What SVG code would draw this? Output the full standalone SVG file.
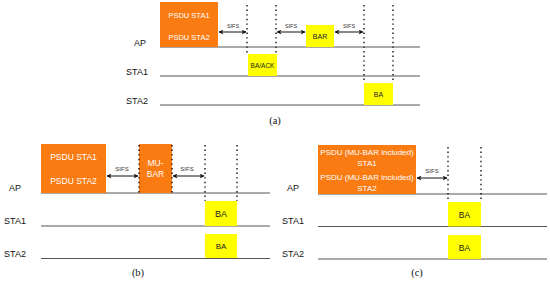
<svg xmlns="http://www.w3.org/2000/svg" width="550" height="282" viewBox="0 0 550 282">
<style>
text{font-family:"Liberation Sans",Arial,sans-serif;}
.or{fill:#F97B12;}
.ye{fill:#FFFF00;}
.wt{fill:#fff;font-size:7.5px;text-anchor:middle;}
.bt{fill:#222;font-size:7px;text-anchor:middle;}
.lb{fill:#111;font-size:9px;text-anchor:middle;}
.sf{fill:#333;font-size:5.5px;text-anchor:middle;}
.tl{stroke:#555;stroke-width:1;fill:none;}
.dt{stroke:#111;stroke-width:1.4;stroke-dasharray:1.4 3.2;fill:none;}
.ar{stroke:#111;stroke-width:1;fill:none;marker-start:url(#ah);marker-end:url(#ah);}
.cap{font-family:"Liberation Serif","Times New Roman",serif;font-size:10.5px;fill:#111;text-anchor:middle;}
</style>
<defs>
<marker id="ah" viewBox="0 0 10 10" refX="9" refY="5" markerWidth="5" markerHeight="5" orient="auto-start-reverse">
<path d="M0,0 L10,5 L0,10 L3,5 Z" fill="#111"/>
</marker>
</defs>

<!-- Panel (a) -->
<g id="a-labels">
<text class="lb" x="140" y="46">AP</text>
<text class="lb" x="137" y="75">STA1</text>
<text class="lb" x="137" y="104">STA2</text>
</g>
<g id="a-timelines">
<line class="tl" x1="160" y1="47" x2="420" y2="47"/>
<line class="tl" x1="160" y1="76" x2="420" y2="76"/>
<line class="tl" x1="160" y1="105" x2="420" y2="105"/>
</g>
<g id="a-psdu">
<rect class="or" x="160" y="2" width="58" height="45"/>
<text class="wt" x="189" y="17.5">PSDU STA1</text>
<text class="wt" x="189" y="39.5">PSDU STA2</text>
</g>
<g id="a-baack">
<rect class="ye" x="248" y="54" width="29" height="22"/>
<text class="bt" x="262.5" y="67.5" style="font-size:6.5px">BA/ACK</text>
</g>
<g id="a-bar">
<rect class="ye" x="306" y="25" width="28" height="22"/>
<text class="bt" x="320" y="38.5">BAR</text>
</g>
<g id="a-ba">
<rect class="ye" x="364" y="83" width="29" height="22"/>
<text class="bt" x="378.5" y="96.5">BA</text>
</g>
<g id="a-connectors">
<line class="dt" x1="247" y1="5" x2="247" y2="54"/>
<line class="dt" x1="276" y1="5" x2="276" y2="54"/>
<line class="dt" x1="364" y1="5" x2="364" y2="83"/>
<line class="dt" x1="393" y1="5" x2="393" y2="83"/>
<line class="ar" x1="219" y1="32" x2="246" y2="32"/>
<line class="ar" x1="277" y1="32" x2="305" y2="32"/>
<line class="ar" x1="335" y1="32" x2="363" y2="32"/>
<text class="sf" x="233" y="28">SIFS</text>
<text class="sf" x="291" y="28">SIFS</text>
<text class="sf" x="349" y="28">SIFS</text>
</g>
<text class="cap" x="275" y="124">(a)</text>

<!-- Panel (b) -->
<g id="b-labels">
<text class="lb" x="15" y="191">AP</text>
<text class="lb" x="15" y="224">STA1</text>
<text class="lb" x="15" y="257">STA2</text>
</g>
<g id="b-timelines">
<line class="tl" x1="41" y1="193" x2="270" y2="193"/>
<line class="tl" x1="41" y1="226" x2="270" y2="226"/>
<line class="tl" x1="41" y1="258.5" x2="270" y2="258.5"/>
</g>
<g id="b-psdu">
<rect class="or" x="41" y="144" width="65" height="49"/>
<text class="wt" x="73.5" y="160" style="font-size:8.5px">PSDU STA1</text>
<text class="wt" x="73.5" y="184" style="font-size:8.5px">PSDU STA2</text>
</g>
<g id="b-mubar">
<rect class="or" x="139" y="144" width="33" height="49"/>
<text class="wt" x="155.5" y="166" style="font-size:8.5px">MU-</text>
<text class="wt" x="155.5" y="177" style="font-size:8.5px">BAR</text>
</g>
<g id="b-ba1">
<rect class="ye" x="205" y="201" width="32" height="25"/>
<text class="bt" x="221" y="216.5" style="font-size:9px">BA</text>
</g>
<g id="b-ba2">
<rect class="ye" x="205" y="234" width="32" height="24"/>
<text class="bt" x="221" y="249" style="font-size:8px">BA</text>
</g>
<g id="b-connectors">
<line class="dt" x1="139" y1="145" x2="139" y2="193"/>
<line class="dt" x1="172" y1="145" x2="172" y2="193"/>
<line class="dt" x1="205" y1="145" x2="205" y2="201"/>
<line class="dt" x1="237" y1="145" x2="237" y2="201"/>
<line class="ar" x1="107" y1="176" x2="138" y2="176"/>
<line class="ar" x1="173" y1="176" x2="204" y2="176"/>
<text class="sf" x="122" y="171" style="font-size:6px">SIFS</text>
<text class="sf" x="187" y="171" style="font-size:6px">SIFS</text>
</g>
<text class="cap" x="138" y="276">(b)</text>

<!-- Panel (c) -->
<g id="c-labels">
<text class="lb" x="293" y="191">AP</text>
<text class="lb" x="293" y="224">STA1</text>
<text class="lb" x="293" y="257">STA2</text>
</g>
<g id="c-timelines">
<line class="tl" x1="318" y1="194" x2="547" y2="194"/>
<line class="tl" x1="318" y1="226.5" x2="547" y2="226.5"/>
<line class="tl" x1="318" y1="259" x2="547" y2="259"/>
</g>
<g id="c-psdu">
<rect class="or" x="318" y="145" width="98" height="49"/>
<text class="wt" x="367" y="155" style="font-size:8px">PSDU (MU-BAR included)</text>
<text class="wt" x="367" y="165.5" style="font-size:8px">STA1</text>
<text class="wt" x="367" y="179.5" style="font-size:8px">PSDU (MU-BAR included)</text>
<text class="wt" x="367" y="191" style="font-size:8px">STA2</text>
</g>
<g id="c-ba1">
<rect class="ye" x="448" y="202" width="33" height="24.5"/>
<text class="bt" x="464.5" y="217.5" style="font-size:8.5px">BA</text>
</g>
<g id="c-ba2">
<rect class="ye" x="448" y="235" width="33" height="24"/>
<text class="bt" x="464.5" y="250.5" style="font-size:8.5px">BA</text>
</g>
<g id="c-connectors">
<line class="dt" x1="448" y1="147" x2="448" y2="202"/>
<line class="dt" x1="481" y1="147" x2="481" y2="202"/>
<line class="ar" x1="417" y1="178" x2="447" y2="178"/>
<text class="sf" x="432" y="173" style="font-size:6px">SIFS</text>
</g>
<text class="cap" x="417" y="276">(c)</text>
</svg>
